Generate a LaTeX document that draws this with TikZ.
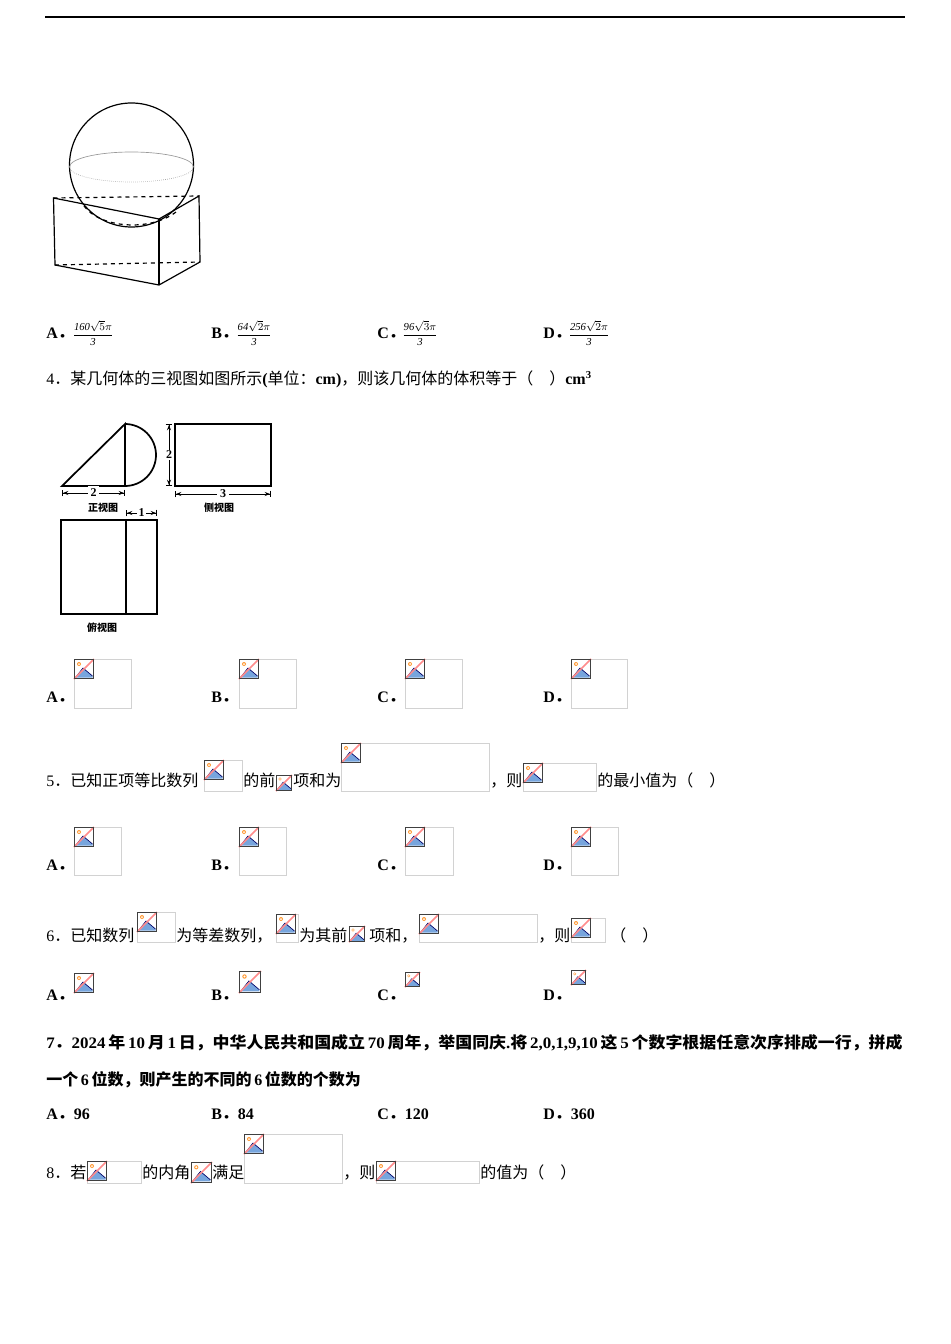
\documentclass[tikz,border=0pt]{standalone}
\usepackage{fontspec}
\setmainfont{Liberation Serif}
\newfontfamily\cjk{Noto Sans CJK SC}
\usetikzlibrary{arrows.meta}
\newcommand\z[1]{{\cjk #1}}
\newcommand\bimicon[3]{%
 \begin{scope}[shift={(#1,#2)},scale=#3/20]
  \fill[white] (0,0) rectangle (20,20);
  \fill[cyan!55!blue!55] (1.5,18.5)--(9,9)--(18.5,17)--(18.5,18.5)--cycle;
  \draw[blue!40!black,line width=0.5pt] (1.5,18.5)--(9,9)--(18.5,17);
  \fill[orange!80] (5,5) circle (2);
  \fill[white] (5,5) circle (1);
  \draw[red!45,line width=1.3pt] (0,20)--(20,0);
  \draw[black!75,line width=0.8pt] (0.5,0.5) rectangle (19.5,19.5);
 \end{scope}}
\newcommand\bimbox[4]{\draw[gray!35,line width=0.6pt] (#1,#2) rectangle (#3,#4); \bimicon{#1}{#2}{20}}
\tikzset{txt/.style={anchor=base west,inner sep=0pt,font=\fontsize{12}{14}\selectfont},
 lbl/.style={anchor=base west,inner sep=0pt,font=\fontsize{12}{14}\selectfont\bfseries},
 dimn/.style={{Bar[width=5pt]Stealth[length=4pt,width=3pt]}-{Stealth[length=4pt,width=3pt]Bar[width=5pt]},line width=0.7pt},
 vw/.style={line width=1.3pt},
 frac/.style={inner sep=0pt,font=\fontsize{8}{10}\selectfont},
 small/.style={inner sep=1pt,font=\fontsize{7.5}{8}\selectfont\cjk\bfseries}}
\begin{document}
\begin{tikzpicture}[x=0.75pt,y=-0.75pt]
\useasboundingbox (0,0) rectangle (950,1344);
\fill[white] (0,0) rectangle (950,1344);
\draw[line width=0.8pt] (45,17)--(905,17);
% --- sphere on prism
\draw[line width=0.9pt] (131.5,165) circle (62);
\draw[gray!70,densely dotted,line width=0.5pt] (69.5,167) arc (180:0:62 and 15);
\draw[gray!80,line width=0.5pt] (69.5,167) arc (180:360:62 and 15);
\draw[dashed,line width=0.9pt] (84,206) .. controls (100,228) and (150,232) .. (176,212);
\draw[line width=0.9pt] (53.5,198)--(159,219)--(199,196)--(200,262)--(159,285)--(55,265)--cycle;
\draw[line width=0.9pt] (159,219)--(159,285);
\draw[dashed,line width=0.9pt] (53.5,198)--(199,196);
\draw[dashed,line width=0.9pt] (55,265)--(200,262);
% options Q3
\node[lbl] at (46,338) {A\z{．}};
\node[lbl] at (211,338) {B\z{．}};
\node[lbl] at (377,338) {C\z{．}};
\node[lbl] at (543,338) {D\z{．}};
\node[frac] at (93,333) {$\displaystyle\frac{\mathit{160}\sqrt{5}\pi}{\mathit{3}}$};
\node[frac] at (254,333) {$\displaystyle\frac{\mathit{64}\sqrt{2}\pi}{\mathit{3}}$};
\node[frac] at (420,333) {$\displaystyle\frac{\mathit{96}\sqrt{3}\pi}{\mathit{3}}$};
\node[frac] at (589,333) {$\displaystyle\frac{\mathit{256}\sqrt{2}\pi}{\mathit{3}}$};
% Q4
\node[txt] at (46,384) {4\z{．某几何体的三视图如图所示}\textbf{(}\z{单位：}\textbf{cm)}\z{，则该几何体的体积等于（　）}\textbf{cm\textsuperscript{3}}};
% three views
\draw[vw] (62,486)--(125,424)--(125,486)--cycle;
\draw[vw] (125,424) arc (-90:90:31);
\draw[dimn] (62,493)--node[fill=white,inner sep=2pt,font=\fontsize{9}{9}\selectfont\bfseries]{2}(125,493);
\node[small] at (103,508) {正视图};
\draw[vw] (175,424) rectangle (271,486);
\draw[dimn] (169,424)--node[fill=white,inner sep=1pt,font=\fontsize{9}{9}\selectfont\bfseries]{2}(169,486);
\draw[dimn] (175,494)--node[fill=white,inner sep=2pt,font=\fontsize{9}{9}\selectfont\bfseries]{3}(271,494);
\node[small] at (219,508) {侧视图};
\draw[vw] (61,520) rectangle (157,614);
\draw[vw] (126,520)--(126,614);
\draw[dimn] (126,513)--node[fill=white,inner sep=1pt,font=\fontsize{9}{9}\selectfont\bfseries]{1}(157,513);
\node[small] at (102,628) {俯视图};
% Q4 options
\node[lbl] at (46,702) {A\z{．}};\bimbox{74}{659}{131}{708}
\node[lbl] at (211,702) {B\z{．}};\bimbox{239}{659}{296}{708}
\node[lbl] at (377,702) {C\z{．}};\bimbox{405}{659}{462}{708}
\node[lbl] at (543,702) {D\z{．}};\bimbox{571}{659}{627}{708}
% Q5
\node[txt] at (46,786) {5\z{．已知正项等比数列}};
\bimbox{204}{760}{242}{791}
\node[txt] at (243,786) {\z{的前}};
\bimicon{276}{775}{16}
\node[txt] at (293,786) {\z{项和为}};
\bimbox{341}{743}{489}{791}
\node[txt] at (490,786) {\z{，则}};
\bimbox{523}{763}{596}{791}
\node[txt] at (597,786) {\z{的最小值为（　）}};
\node[lbl] at (46,870) {A\z{．}};\bimbox{74}{827}{121}{875}
\node[lbl] at (211,870) {B\z{．}};\bimbox{239}{827}{286}{875}
\node[lbl] at (377,870) {C\z{．}};\bimbox{405}{827}{453}{875}
\node[lbl] at (543,870) {D\z{．}};\bimbox{571}{827}{618}{875}
% Q6
\node[txt] at (46,941) {6\z{．已知数列}};
\bimbox{137}{912}{175}{942}
\node[txt] at (176,941) {\z{为等差数列，}};
\bimbox{276}{914}{298}{942}
\node[txt] at (299,941) {\z{为其前}};
\bimicon{349}{926}{16}
\node[txt] at (369,941) {\z{项和，}};
\bimbox{419}{914}{537}{942}
\node[txt] at (538,941) {\z{，则}};
\bimbox{571}{918}{605}{942}
\node[txt] at (610,941) {\z{（　）}};
\node[lbl] at (46,1000) {A\z{．}};\bimicon{74}{973}{20}
\node[lbl] at (211,1000) {B\z{．}};\bimicon{239}{971}{22}
\node[lbl] at (377,1000) {C\z{．}};\bimicon{405}{972}{15}
\node[lbl] at (543,1000) {D\z{．}};\bimicon{571}{970}{15}
% Q7
\node[lbl] at (46,1048) {\scalebox{1.058}[1]{7\z{．}2024\,\z{年}\,10\,\z{月}\,1\,\z{日，中华人民共和国成立}\,70\,\z{周年，举国同庆}.\z{将}\,2,0,1,9,10\,\z{这}\,5\,\z{个数字根据任意次序排成一行，拼成}}};
\node[lbl] at (46,1085) {\z{一个}\,6\,\z{位数，则产生的不同的}\,6\,\z{位数的个数为}};
\node[lbl] at (46,1119) {A\z{．}96};
\node[lbl] at (211,1119) {B\z{．}84};
\node[lbl] at (377,1119) {C\z{．}120};
\node[lbl] at (543,1119) {D\z{．}360};
% Q8
\node[txt] at (46,1178) {8\z{．若}};
\bimbox{87}{1161}{141}{1183}
\node[txt] at (142,1178) {\z{的内角}};
\bimicon{191}{1162}{21}
\node[txt] at (212,1178) {\z{满足}};
\bimbox{244}{1134}{342}{1183}
\node[txt] at (343,1178) {\z{，则}};
\bimbox{376}{1161}{479}{1183}
\node[txt] at (480,1178) {\z{的值为（　）}};
\end{tikzpicture}
\end{document}
